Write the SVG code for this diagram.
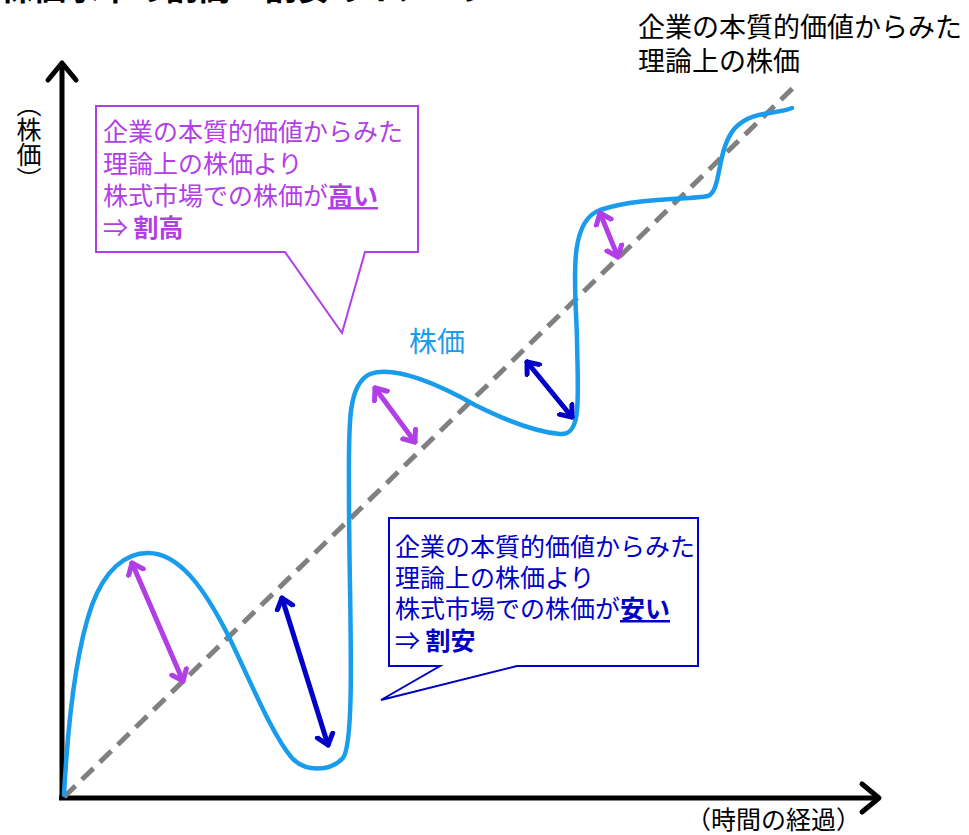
<svg xmlns="http://www.w3.org/2000/svg" width="969" height="835" viewBox="0 0 969 835">
<style>
text{font-family:"Noto Sans CJK JP","Noto Sans",sans-serif;}
.axis{stroke:#000;stroke-width:5;fill:none;stroke-linecap:butt;}
.head{stroke:#000;stroke-width:5;fill:none;stroke-linecap:round;stroke-linejoin:round;}
.dash{stroke:#808080;stroke-width:5;stroke-dasharray:16 9;fill:none;}
.price{stroke:#1a9cec;stroke-width:4.5;fill:none;stroke-linecap:round;}
.pa{stroke:#b23ee6;stroke-width:5;fill:none;stroke-linecap:round;}
.ba{stroke:#0000c8;stroke-width:5;fill:none;stroke-linecap:round;}
.pt{fill:#b23ee6;font-size:25px;}
.bt{fill:#0000c8;font-size:25px;}
.b{font-weight:bold;}
.u{font-weight:bold;text-decoration:underline;}
</style>
<defs>
<marker id="mp" viewBox="-12 -12 24 24" markerWidth="24" markerHeight="24" markerUnits="userSpaceOnUse" refX="0" refY="0" orient="auto-start-reverse">
<path d="M-10,-8 L0,0 L-10,8" stroke="#b23ee6" stroke-width="5" fill="none" stroke-linecap="round" stroke-linejoin="round"/>
</marker>
<marker id="mb" viewBox="-12 -12 24 24" markerWidth="24" markerHeight="24" markerUnits="userSpaceOnUse" refX="0" refY="0" orient="auto-start-reverse">
<path d="M-10,-8 L0,0 L-10,8" stroke="#0000c8" stroke-width="5" fill="none" stroke-linecap="round" stroke-linejoin="round"/>
</marker>
</defs>
<rect width="969" height="835" fill="#fff"/>
<text x="0" y="0" font-size="33" font-weight="bold" fill="#000">株価水準の割高・割安のイメージ</text>
<g id="axes">
<line class="axis" x1="62" y1="800" x2="62" y2="64"/>
<polyline class="head" points="48,80 62,63 76,80"/>
<line class="axis" x1="59" y1="798" x2="878" y2="798"/>
<polyline class="head" points="862,784 879,798 862,812"/>
<text x="29" y="92" font-size="25" fill="#000" style="writing-mode:vertical-rl">（株価）</text>
<text x="686" y="829" font-size="25" fill="#000">（時間の経過）</text>
</g>
<g id="value-line">
<line class="dash" x1="64" y1="797" x2="797" y2="84"/>
<text x="638" y="37" font-size="27" fill="#000">企業の本質的価値からみた</text>
<text x="638" y="71" font-size="27" fill="#000">理論上の株価</text>
</g>
<g id="price-curve">
<path class="price" d="M64 795 C68 720 76 650 92 605 C105 570 125 553 148 553 C180 553 205 590 228 635 C250 680 272 735 292 758 C305 772 330 772 343 758 C356 740 349 600 349 500 C349 430 346 385 370 374 C395 365 440 385 475 405 C505 420 535 432 560 434 C582 436 578 400 577 340 C576 290 566 222 600 210 C640 197 690 200 708 196 C722 190 716 150 735 128 C752 110 775 115 792 108"/>
<text x="409" y="352" font-size="28" fill="#1a9cec">株価</text>
</g>
<g id="gap-arrows">
<line class="pa" x1="132" y1="563" x2="183" y2="681" marker-start="url(#mp)" marker-end="url(#mp)"/>
<line class="pa" x1="375" y1="388" x2="415" y2="442" marker-start="url(#mp)" marker-end="url(#mp)"/>
<line class="pa" x1="600" y1="213" x2="618" y2="257" marker-start="url(#mp)" marker-end="url(#mp)"/>
<line class="ba" x1="282" y1="598" x2="328" y2="745" marker-start="url(#mb)" marker-end="url(#mb)"/>
<line class="ba" x1="527" y1="362" x2="572" y2="417" marker-start="url(#mb)" marker-end="url(#mb)"/>
</g>
<g id="callout-high">
<path d="M96,106 H418 V252 H365 L342,333 L285,252 H96 Z" fill="#fff" stroke="#b23ee6" stroke-width="2"/>
<text class="pt" x="103" y="141">企業の本質的価値からみた</text>
<text class="pt" x="103" y="173">理論上の株価より</text>
<text class="pt" x="103" y="205">株式市場での株価が<tspan class="u">高い</tspan></text>
<text class="pt" x="103" y="237">⇒ <tspan class="b">割高</tspan></text>
</g>
<g id="callout-low">
<path d="M389,518 H698 V666 H517 L381,700 L440,666 H389 Z" fill="#fff" stroke="#0000c8" stroke-width="2"/>
<text class="bt" x="395" y="556">企業の本質的価値からみた</text>
<text class="bt" x="395" y="587">理論上の株価より</text>
<text class="bt" x="395" y="618">株式市場での株価が<tspan class="u">安い</tspan></text>
<text class="bt" x="395" y="650">⇒ <tspan class="b">割安</tspan></text>
</g>
</svg>
